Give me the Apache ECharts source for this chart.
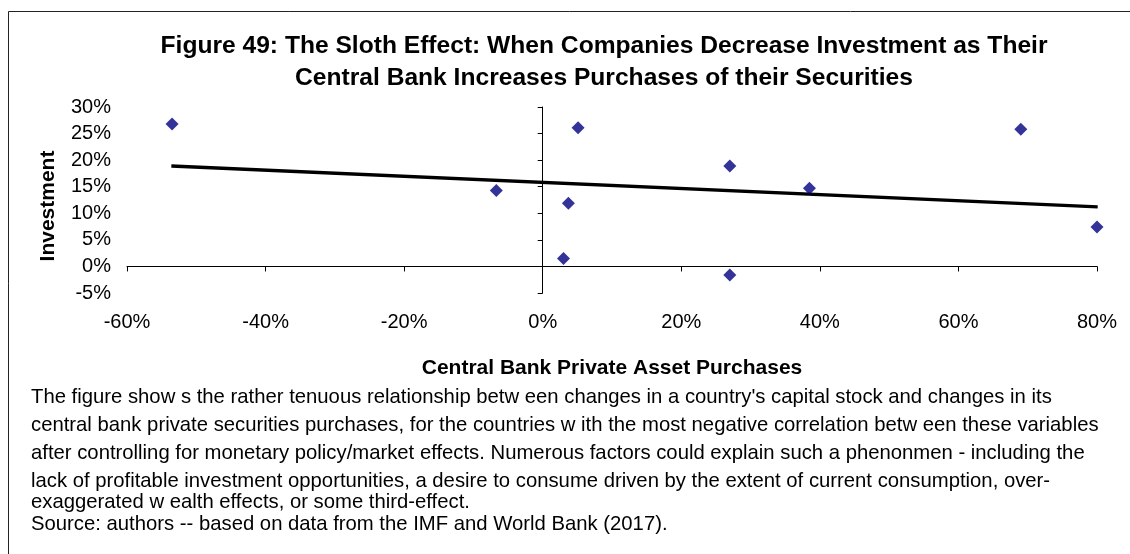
<!DOCTYPE html>
<html>
<head>
<meta charset="utf-8">
<title>Figure 49</title>
<script src="https://cdn.jsdelivr.net/npm/echarts@6/dist/echarts.min.js"></script>
<style>
    html, body { margin: 0; padding: 0; background: #fff; }
    #chart { width: 1130px; height: 554px; }
</style>
</head>
<body>
<div id="chart"></div>
<script>
    // purchases (x, %) and investment (y, %) per country
    var purchases = [-53.5, -6.7, 3.0, 3.7, 5.1, 27.0, 27.0, 38.5, 69.0, 80.0];
    var investment = [26.8, 14.3, 1.5, 11.9, 26.1, 18.9, -1.6, 14.7, 25.8, 7.4];

    // linear trend, end points
    var trendX = [-53.6, 80.1];
    var trendY = [18.9, 11.2];

    var xMin = -60, xMax = 80, xStep = 20;
    var yMin = -5, yMax = 30, yStep = 5;

    var titleLines = [
        'Figure 49: The Sloth Effect: When Companies Decrease Investment as Their',
        'Central Bank Increases Purchases of their Securities'
    ];
    var noteLines = [
        'The figure show s the rather tenuous relationship betw een changes in a country\'s capital stock and changes in its',
        'central bank private securities purchases, for the countries w ith the most negative correlation betw een these variables',
        'after controlling for monetary policy/market effects. Numerous factors could explain such a phenonmen - including the',
        'lack of profitable investment opportunities, a desire to consume driven by the extent of current consumption, over-',
        'exaggerated w ealth effects, or some third-effect.',
        'Source: authors -- based on data from the IMF and World Bank (2017).'
    ];

    var font = 'Arial, "Liberation Sans", sans-serif';
    var noteY = [397, 425, 453, 481, 502, 524];

    var points = [], trend = [], i;
    for (i = 0; i < purchases.length; i++) {
        points.push([purchases[i], investment[i]]);
    }
    for (i = 0; i < trendX.length; i++) {
        trend.push([trendX[i], trendY[i]]);
    }

    var graphics = [{
        type: 'rect',
        shape: { x: 8.5, y: 11.5, width: 1200, height: 700 },
        style: { fill: 'none', stroke: '#222', lineWidth: 1 },
        silent: true
    }];
    for (i = 0; i < titleLines.length; i++) {
        graphics.push({
            type: 'text',
            x: 604, y: i === 0 ? 46 : 78,
            style: {
                text: titleLines[i], fill: '#000', align: 'center', verticalAlign: 'middle',
                font: 'bold 24.6px ' + font
            }
        });
    }
    for (i = 0; i < noteLines.length; i++) {
        graphics.push({
            type: 'text',
            x: 31, y: noteY[i],
            style: {
                text: noteLines[i], fill: '#000', align: 'left', verticalAlign: 'middle',
                font: '20.3px ' + font
            }
        });
    }

    var pct = function (v) { return v + '%'; };

    var myChart = echarts.init(document.getElementById('chart'), null, { renderer: 'canvas' });

    myChart.setOption({
        animation: false,
        backgroundColor: '#fff',
        textStyle: { fontFamily: font },
        grid: { left: 127, right: 33, top: 107, bottom: 261, containLabel: false },
        xAxis: [{
            // labels along the bottom
            type: 'value', position: 'bottom', min: xMin, max: xMax, interval: xStep,
            axisLine: { show: false, onZero: false },
            axisTick: { show: false },
            splitLine: { show: false },
            axisLabel: { formatter: pct, color: '#000', fontSize: 20, margin: 19 },
            name: 'Central Bank Private Asset Purchases',
            nameLocation: 'middle', nameGap: 65,
            nameTextStyle: { color: '#000', fontSize: 21, fontWeight: 'bold' }
        }, {
            // line through y = 0
            type: 'value', position: 'bottom', min: xMin, max: xMax, interval: xStep,
            axisLine: { show: true, onZero: true, onZeroAxisIndex: 0, lineStyle: { color: '#000', width: 1 } },
            axisTick: { show: true, length: 5, lineStyle: { color: '#000' } },
            axisLabel: { show: false },
            splitLine: { show: false }
        }],
        yAxis: [{
            type: 'value', position: 'left', min: yMin, max: yMax, interval: yStep,
            axisLine: { show: false, onZero: false },
            axisTick: { show: false },
            splitLine: { show: false },
            axisLabel: { formatter: pct, color: '#000', fontSize: 20, margin: 16 },
            name: 'Investment',
            nameLocation: 'middle', nameGap: 68, nameRotate: 90,
            nameTextStyle: { color: '#000', fontSize: 21, fontWeight: 'bold', padding: [0, 12, 0, 0] }
        }, {
            type: 'value', position: 'left', min: yMin, max: yMax, interval: yStep,
            axisLine: { show: true, onZero: true, onZeroAxisIndex: 0, lineStyle: { color: '#000', width: 1 } },
            axisTick: { show: true, length: 5, lineStyle: { color: '#000' } },
            axisLabel: { show: false },
            splitLine: { show: false }
        }],
        series: [{
            name: 'Countries',
            type: 'scatter',
            xAxisIndex: 0, yAxisIndex: 0,
            symbol: 'diamond',
            symbolSize: 13,
            itemStyle: { color: '#000080' },
            data: points,
            z: 3
        }, {
            name: 'Trend',
            type: 'line',
            xAxisIndex: 0, yAxisIndex: 0,
            showSymbol: false,
            lineStyle: { color: '#000', width: 3.3 },
            data: trend,
            z: 2
        }],
        graphic: graphics
    });
</script>
</body>
</html>
